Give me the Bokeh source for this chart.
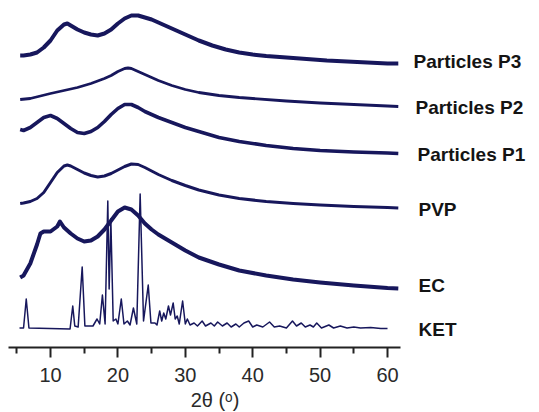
from bokeh.plotting import figure
from bokeh.models import Range1d, FixedTicker, Label
from bokeh.embed import file_html
from bokeh.resources import INLINE

# ---- data (2θ in degrees, intensity in arbitrary units above each trace's baseline) ----
series_names = ["Particles P3", "Particles P2", "Particles P1", "PVP", "EC", "KET"]
series_offsets = [284, 241, 194, 139, 59, 18.5]

p3_x = [5.5, 6, 7, 8, 9, 10, 11, 12, 12.5, 13, 14, 15, 16, 17, 18, 19, 20, 21, 22, 23, 24, 25, 26, 27, 28,
        30, 32, 34, 36, 38, 40, 42, 45, 48, 51, 54, 57, 60, 61.6]
p3_y = [8, 8, 9, 11, 16, 23, 33, 39, 40, 38, 34, 31, 29, 28, 30, 34, 40, 45, 48, 48, 46, 44, 41, 38, 35,
        29, 23, 18, 14, 11, 9, 7.5, 6, 4.5, 3, 2, 1, 0, 0]

p2_x = [5.5, 7, 10, 12, 14, 16, 18, 19, 20, 21, 21.5, 22, 23, 24, 25, 26, 28, 30, 32, 35, 38, 40, 45, 50,
        55, 60, 61.6]
p2_y = [7, 8, 13, 16, 19, 23, 28, 31, 35, 38, 38.5, 38, 35, 32, 29, 26, 21, 17, 14, 11, 9, 8, 5.5, 3.5,
        2, 0.5, 0]

p1_x = [5.5, 6, 7, 8, 9, 10, 11, 12, 13, 14, 15, 16, 17, 18, 19, 20, 21, 22, 23, 24, 25, 26, 28, 30, 32,
        35, 38, 42, 46, 50, 55, 60, 61.6]
p1_y = [24, 23, 26, 31, 36, 38, 35, 30, 25, 21, 20, 22, 26, 32, 39, 45, 49, 49, 46, 42, 39, 36, 31, 26, 22,
        16, 12, 8, 5, 3, 1.5, 0.5, 0]

pvp_x = [5.5, 6, 7, 8, 9, 10, 11, 12, 12.5, 13, 14, 15, 16, 17, 18, 19, 20, 21, 22, 23, 24, 25, 26, 28,
         30, 32, 35, 38, 42, 46, 50, 55, 60, 61.6]
pvp_y = [5, 5.5, 7, 10, 16, 26, 36, 42.5, 43.5, 42.5, 39, 35.5, 33, 31.5, 32.5, 35, 38.5, 42, 44.5, 44, 41,
         37.5, 34, 28, 23, 18.5, 13.5, 10, 7, 5, 3.5, 2, 1, 0.5]

ec_x = [5.5, 6, 7, 8, 8.5, 9, 10, 11, 11.4, 12, 13, 14, 15, 16, 17, 18, 19, 20, 21, 22, 23, 24, 25, 26,
        28, 30, 32, 35, 38, 42, 46, 50, 55, 60, 61.6]
ec_y = [11, 13, 25, 44, 55, 57, 57, 62, 67, 61, 55, 50, 47, 48, 52, 59, 68, 77, 81, 79, 73, 65, 59, 54,
        46, 38, 31, 24, 18, 13, 9, 6, 3, 0.5, 0]

ket_x = [5.4, 6.0, 6.4, 6.8, 12.9, 13.3, 13.6, 14.1, 14.7, 15.1, 16.3, 16.9, 17.3, 17.7, 18.1, 18.5, 18.7,
         18.95, 19.3, 19.7, 20.0, 20.5, 20.9, 21.4, 21.8, 22.3, 22.8, 23.3, 23.8, 24.5, 24.9, 25.5, 25.8,
         26.2, 26.5, 26.8, 27.1, 27.5, 27.8, 28.2, 28.5, 28.8, 29.1, 29.6, 30.0, 30.3, 30.7, 31.3, 31.8,
         32.5, 33.0, 33.8, 34.3, 34.8, 35.5, 36.2, 36.8, 37.5, 38.0, 38.7, 39.4, 40.0, 40.6, 41.5, 42.5,
         43.2, 44.0, 45.0, 45.9, 46.5, 47.2, 47.8, 48.5, 49.0, 49.5, 50.2, 51.3, 52.0, 53.0, 54.0, 55.0,
         56.0, 57.5, 59.0, 60.0]
ket_y = [1, 1, 30, 1, 0, 23, 3, 2, 62, 3, 3, 10, 5, 34, 5, 128, 40,
         110, 8, 10, 5, 30, 5, 8, 4, 21, 5, 135, 8, 44, 6, 6, 4,
         18, 8, 16, 10, 23, 14, 26, 10, 13, 5, 28, 5, 10, 4, 6, 3,
         8, 3, 6, 3, 7, 3, 6, 2, 5, 2, 6, 8, 2, 4, 2, 7,
         2, 3, 1, 8, 3, 6, 2, 4, 2, 6, 1, 4, 1, 3, 1, 2,
         1, 1.5, 0.5, 0.5]

x_ticks = [10, 20, 30, 40, 50, 60]
x_minor_ticks = [5, 15, 25, 35, 45, 55]
x_axis_bounds = (3.77, 61.93)
x_title = "2θ (ᵒ)"

series_x = [p3_x, p2_x, p1_x, pvp_x, ec_x, ket_x]
series_y = [p3_y, p2_y, p1_y, pvp_y, ec_y, ket_y]
line_widths = [4.0, 2.8, 3.6, 3.0, 4.0, 1.5]
label_x = [63.86, 64.15, 64.45, 64.6, 64.6, 64.6]
label_y_shift = [2, -1, -1, -1, 3, -0.5]

LINE_COLOR = "#17175c"

p = figure(width=539, height=412,
           x_range=Range1d(2.58, 82.55), y_range=Range1d(-65, 347),
           output_backend="svg", toolbar_location=None,
           y_axis_location=None,
           min_border_left=0, min_border_right=0, min_border_top=0, min_border_bottom=0)
p.outline_line_color = None
p.grid.visible = False
p.background_fill_color = "white"
p.border_fill_color = "white"

for xs, ys, off, lw in zip(series_x, series_y, series_offsets, line_widths):
    p.line(xs, [yv + off for yv in ys], line_color=LINE_COLOR, line_width=lw, line_join="round")

ax = p.xaxis[0]
ax.fixed_location = 0
ax.bounds = x_axis_bounds
ax.ticker = FixedTicker(ticks=x_ticks, minor_ticks=x_minor_ticks)
ax.axis_line_color = "#222222"
ax.axis_line_width = 2
ax.major_tick_line_color = "#222222"
ax.major_tick_line_width = 2
ax.major_tick_out = 10
ax.major_tick_in = 0
ax.minor_tick_line_color = "#222222"
ax.minor_tick_line_width = 2
ax.minor_tick_out = 6
ax.minor_tick_in = 0
ax.major_label_text_font = "Liberation Sans"
ax.major_label_text_font_size = "20px"
ax.major_label_text_color = "#2a2a2a"
ax.major_label_standoff = 10

p.add_layout(Label(x=34.4, y=-52, text=x_title, text_align="center", text_baseline="middle",
                   text_font="Liberation Sans", text_font_size="20px", text_color="#2a2a2a"))

for name, lx, off, dy in zip(series_names, label_x, series_offsets, label_y_shift):
    p.add_layout(Label(x=lx, y=off + dy, text=name, text_align="left", text_baseline="middle",
                       text_font="Liberation Sans", text_font_style="bold", text_font_size="19px",
                       text_color="#141414"))

open("out.html", "w").write(file_html(p, INLINE))
